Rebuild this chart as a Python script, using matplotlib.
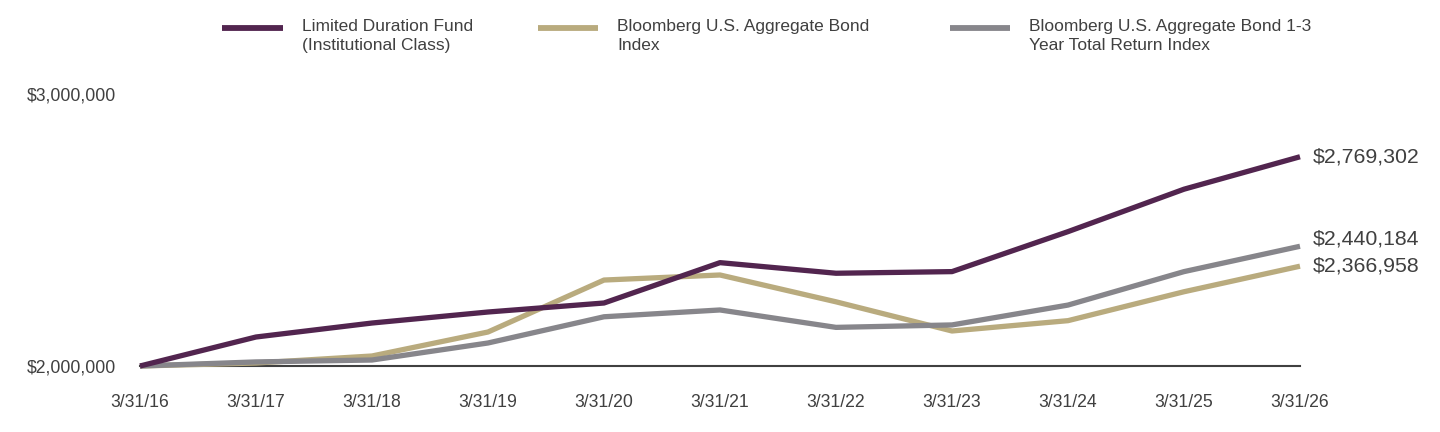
import matplotlib
matplotlib.use("Agg")
import matplotlib.pyplot as plt
from matplotlib.lines import Line2D
from matplotlib.ticker import FuncFormatter

plt.rcParams['font.family'] = ['Liberation Sans', 'DejaVu Sans']

dates = ["3/31/16", "3/31/17", "3/31/18", "3/31/19", "3/31/20", "3/31/21",
         "3/31/22", "3/31/23", "3/31/24", "3/31/25", "3/31/26"]
fund = [2000000, 2106600, 2158000, 2198500, 2231600, 2380000,
        2341000, 2347000, 2494000, 2650000, 2769302]
agg = [2000000, 2011000, 2036800, 2125000, 2316000, 2334600,
       2236000, 2128700, 2166700, 2273000, 2366958]
agg13 = [2000000, 2015000, 2022000, 2084600, 2181000, 2206000,
         2142000, 2151000, 2224000, 2347000, 2440184]
names = ["Limited Duration Fund\n(Institutional Class)",
         "Bloomberg U.S. Aggregate Bond\nIndex",
         "Bloomberg U.S. Aggregate Bond 1-3\nYear Total Return Index"]
yticks = [2000000, 3000000]

colors = ["#52254F", "#B9AB7E", "#87868B"]
txt = "#404040"

fig = plt.figure(figsize=(14.4, 4.32), dpi=100)
ax = fig.add_axes([140/1440, 1-366/432, 1160/1440, 272/432])

x = list(range(len(dates)))
series = [agg, agg13, fund]
scol = [colors[1], colors[2], colors[0]]
for s, c in zip(series, scol):
    ax.plot(x, s, color=c, lw=3.8, solid_capstyle='butt', clip_on=False, zorder=3)

ax.set_xlim(0, len(dates)-1)
ax.set_ylim(2000000, 3000000)
ax.set_xticks(x)
ax.set_xticklabels(dates)
ax.set_yticks(yticks)
ax.yaxis.set_major_formatter(FuncFormatter(lambda v, p: "${:,.0f}".format(v)))
ax.tick_params(axis='both', length=0, labelsize=12.7, labelcolor=txt)
ax.tick_params(axis='x', pad=20)
ax.tick_params(axis='y', pad=17)
for sp in ['top', 'right', 'left']:
    ax.spines[sp].set_visible(False)
ax.spines['bottom'].set_color(txt)
ax.spines['bottom'].set_linewidth(1.5)
ax.spines['bottom'].set_zorder(2)

# end labels (middle one nudged up to avoid overlap)
for s, dy in zip([fund, agg13, agg], [0, 5.5, 0]):
    ax.annotate("${:,.0f}".format(s[-1]), xy=(x[-1], s[-1]), xytext=(9, dy),
                textcoords='offset points', ha='left', va='center',
                fontsize=15.3, color=txt, annotation_clip=False)

# legend
leg_line_x = [(222, 283), (538, 598), (950, 1010)]
leg_text_x = [302, 617, 1029]
for (x0, x1), tx, c, n in zip(leg_line_x, leg_text_x, colors, names):
    fig.add_artist(Line2D([x0/1440, x1/1440], [1-28/432, 1-28/432],
                          color=c, lw=4.2, solid_capstyle='butt'))
    fig.text(tx/1440, 1-19/432, n, ha='left', va='top', fontsize=12.5,
             color=txt, linespacing=1.3)

fig.savefig("out.png", dpi=100)
